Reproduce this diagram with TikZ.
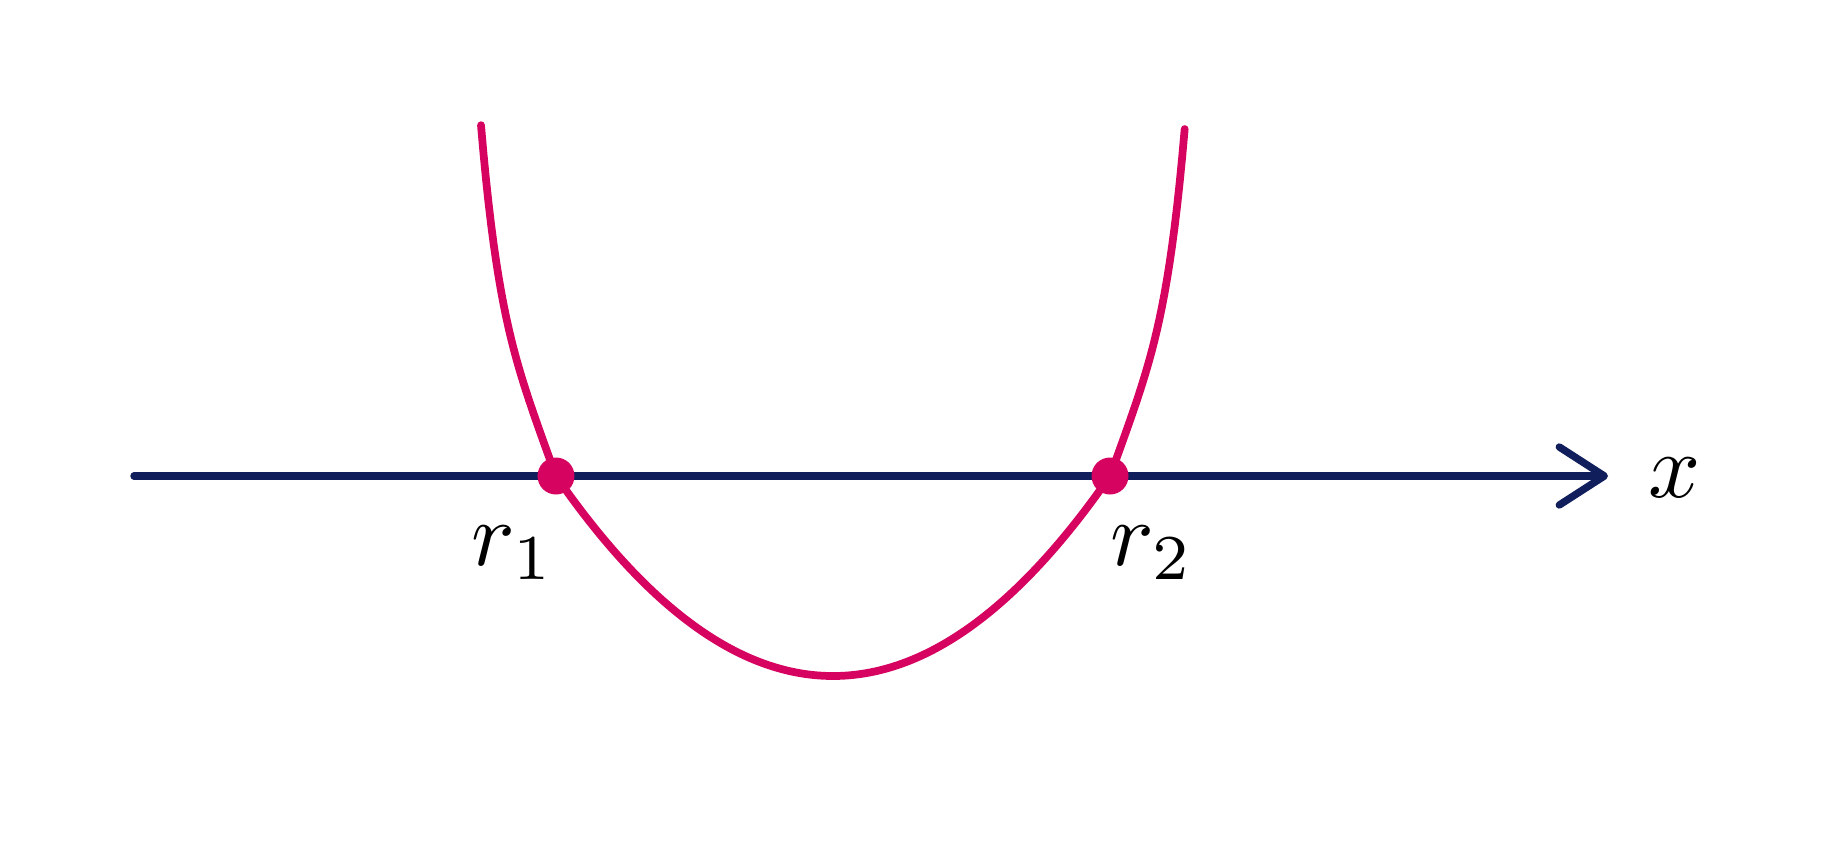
\documentclass[tikz,border=0pt]{standalone}
\usepackage{amsmath,amssymb}
\usepackage{xcolor}
\usetikzlibrary{positioning}
\usetikzlibrary{arrows.meta}
\usetikzlibrary{math}
\usetikzlibrary{calc}

\definecolor{axisblue}{RGB}{16,30,92}
\definecolor{curvepink}{RGB}{214,4,96}

\tikzset{
  axisline/.style={line width=2.1pt, color=axisblue, line cap=round},
  curveline/.style={line width=2.2pt, color=curvepink, line cap=round, line join=round},
  rootlabel/.style={inner sep=0pt, scale=2.6},
  declare function={
    over(\x) = max(abs(\x)-2.77,0);
    bowl(\x) = -2 + 2*\x*\x/7.673 + 1.27*over(\x) + 5.59*over(\x)^5;
  },
}

\begin{document}
\begin{tikzpicture}

  \tikzmath{
    \dotradius = 0.185; % radius of the root dots
    \rootx     = 2.77;  % distance of the roots from the middle
    \ends      = 3.52;  % half width of the curve at its top
    \headlen   = 4.5;   % length of the arrow head (mm)
    \headwid   = 5.8;   % width of the arrow head (mm)
  }

  \useasboundingbox (-8.33,-3.87) rectangle (9.89,4.76);

  % Positions of the roots and of the axis ends
  \coordinate (R1) at (-\rootx, 0);
  \coordinate (R2) at ( \rootx, 0);
  \coordinate (axstart) at (-6.99, 0);
  \coordinate (axend)   at ( 7.75, 0);

  % x axis
  \draw[axisline, -{Straight Barb[length=\headlen mm, width=\headwid mm, round]}]
    (axstart) -- (axend);
  \node[rootlabel] (xlabel) at ($ (axend) + (0.67, -0.02) $) {$x$};

  % the curve through both roots
  \draw[curveline] plot[domain=-\ends:\ends, samples=281] (\x, {bowl(\x)});

  % root dots
  \fill[curvepink] (R1) circle [radius=\dotradius];
  \fill[curvepink] (R2) circle [radius=\dotradius];

  % root labels
  \node[rootlabel] (r1label) at ($ (R1) + (-0.43, -0.77) $) {$r_1$};
  \node[rootlabel] (r2label) at ($ (R2) + ( 0.42, -0.77) $) {$r_2$};

\end{tikzpicture}
\end{document}
